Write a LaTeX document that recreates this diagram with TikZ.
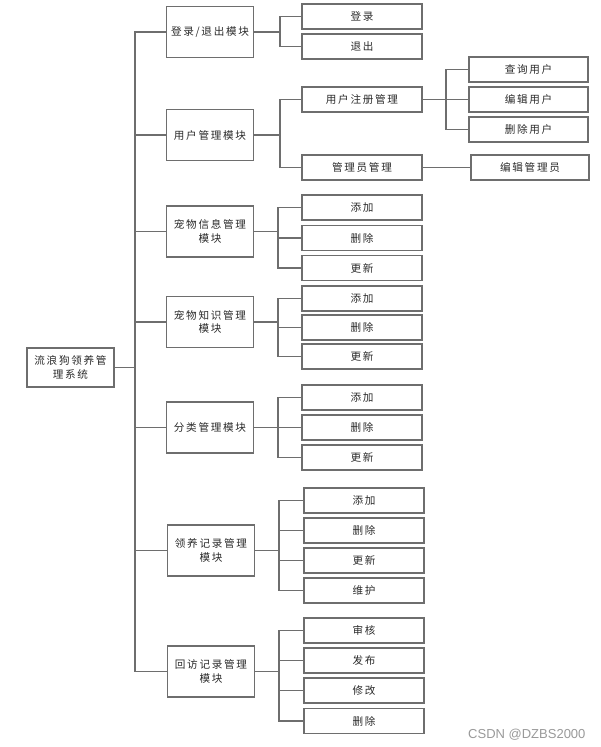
\documentclass[tikz,border=0pt]{standalone}
\usepackage{fontspec}
\newfontfamily\cjk[LetterSpace=16]{Noto Sans CJK SC}
\newfontfamily\wm{Liberation Sans}
\definecolor{ln}{HTML}{6E6E6E}
\definecolor{tx}{HTML}{2A2A2A}
\begin{document}
\begin{tikzpicture}[x=1pt,y=-1pt,
  box/.style={draw=ln,line width=1.2pt,fill=white,inner sep=0pt,align=center,
    font=\cjk\fontsize{10.6}{13.5}\selectfont,text=tx},
  modbox/.style={box,minimum width=87pt,minimum height=51pt},
  rootbox/.style={box,minimum width=87pt,minimum height=39pt},
  leafbox/.style={box,minimum width=120pt,minimum height=25pt},
  conn/.style={draw=ln,line width=1.2pt}]
\useasboundingbox (0,0) rectangle (600,747);
% root
\node[rootbox] (root) at (70.5,367.5) {流浪狗领养管\\理系统};
% modules
\node[modbox] (m1) at (210,32) {登录/退出模块};
\node[modbox] (m2) at (210,135) {用户管理模块};
\node[modbox] (m3) at (210,231.5) {宠物信息管理\\模块};
\node[modbox] (m4) at (210,322) {宠物知识管理\\模块};
\node[modbox] (m5) at (210,427.5) {分类管理模块};
\node[modbox] (m6) at (211,550.5) {领养记录管理\\模块};
\node[modbox] (m7) at (211,671.5) {回访记录管理\\模块};
% coordinates for bracket verticals
\coordinate (T) at (135,0);
\coordinate (B1) at (280,0);
\coordinate (B2) at (278,0);
\coordinate (B3) at (446,0);
\coordinate (B4) at (279,0);
% leaves
\node[leafbox] (l11) at (362,16.5) {登录};
\node[leafbox] (l12) at (362,46.5) {退出};
\node[leafbox] (u1) at (362,99.5) {用户注册管理};
\node[leafbox] (u2) at (362,167.5) {管理员管理};
\node[leafbox,minimum width=119pt] (q1) at (528.5,69.5) {查询用户};
\node[leafbox,minimum width=119pt] (q2) at (528.5,99.5) {编辑用户};
\node[leafbox,minimum width=119pt] (q3) at (528.5,129.5) {删除用户};
\node[leafbox,minimum width=118pt] (e1) at (530,167.5) {编辑管理员};
\node[leafbox] (a1) at (362,207.5) {添加};
\node[leafbox] (a2) at (362,238) {删除};
\node[leafbox] (a3) at (362,268) {更新};
\node[leafbox] (b1) at (362,298.5) {添加};
\node[leafbox] (b2) at (362,327.5) {删除};
\node[leafbox] (b3) at (362,356.5) {更新};
\node[leafbox] (c1) at (362,397.5) {添加};
\node[leafbox] (c2) at (362,427.5) {删除};
\node[leafbox] (c3) at (362,457.5) {更新};
\node[leafbox] (d1) at (364,500.5) {添加};
\node[leafbox] (d2) at (364,530.5) {删除};
\node[leafbox] (d3) at (364,560.5) {更新};
\node[leafbox] (d4) at (364,590.5) {维护};
\node[leafbox] (f1) at (364,630.5) {审核};
\node[leafbox] (f2) at (364,660.5) {发布};
\node[leafbox] (f3) at (364,690.5) {修改};
\node[leafbox] (f4) at (364,721) {删除};
% trunk
\foreach \m in {m1,m2,m3,m4,m5,m6,m7}
  \draw[conn] (root.east) -- (root.east -| T) |- (\m.west);
% module brackets
\foreach \m/\l in {m1/l11,m1/l12,m2/u1,m2/u2}
  \draw[conn] (\m.east) -- (\m.east -| B1) |- (\l.west);
\foreach \m/\l in {m3/a1,m3/a2,m3/a3,m4/b1,m4/b2,m4/b3,m5/c1,m5/c2,m5/c3}
  \draw[conn] (\m.east) -- (\m.east -| B2) |- (\l.west);
\foreach \m/\l in {m6/d1,m6/d2,m6/d3,m6/d4,m7/f1,m7/f2,m7/f3,m7/f4}
  \draw[conn] (\m.east) -- (\m.east -| B4) |- (\l.west);
% sub brackets
\foreach \l in {q1,q2,q3}
  \draw[conn] (u1.east) -- (u1.east -| B3) |- (\l.west);
\draw[conn] (u2.east) -- (e1.west);
% watermark
\node[font=\wm\fontsize{13}{15}\selectfont,text=black!40,anchor=east] (wmk) at (589,735) {CSDN @DZBS2000};
\end{tikzpicture}
\end{document}
